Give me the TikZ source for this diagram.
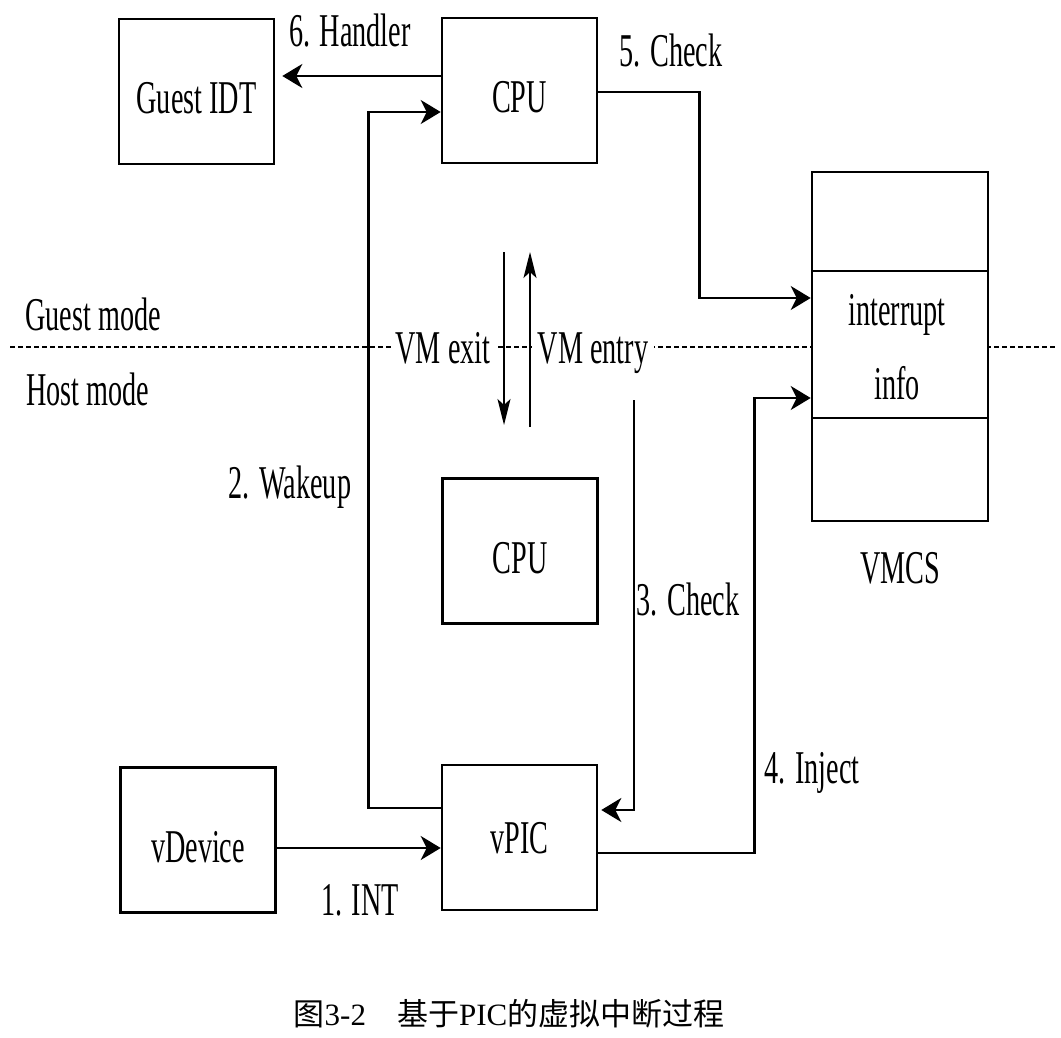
\documentclass[tikz,border=0pt]{standalone}
\usepackage{fontspec}
\setmainfont{Liberation Serif}
\newfontfamily\cf[FakeStretch=0.6]{Liberation Serif}
\newfontfamily\cjk{Noto Sans CJK SC}
\usetikzlibrary{arrows.meta,calc}
\begin{document}
\begin{tikzpicture}[x=1pt,y=-1pt,
  box/.style={draw, line width=2.6pt, minimum width=155pt, minimum height=145pt, fill=white, inner sep=0pt,
    text height=44pt, text depth=0pt, font=\cf\fontsize{47}{50}\selectfont},
  vcell/.style={draw, line width=2.6pt, minimum width=176pt, fill=white, inner sep=0pt},
  lbl/.style={font=\cf\fontsize{47}{50}\selectfont, inner sep=0pt, anchor=base},
  conn/.style={line width=2.6pt, -{Stealth[length=20pt,width=24pt,inset=6pt]}},
  vmarrow/.style={line width=1.8pt, -{Stealth[length=26pt,width=13pt,inset=6pt]}},
  modeline/.style={line width=2pt, dash pattern=on 5pt off 3pt}]
\useasboundingbox (0,0) rectangle (1061,1038);
\fill[white] (0,0) rectangle (1061,1038);
% mode separator
\coordinate (dl) at (10,347);
\coordinate (dr) at (1055,347);
\draw[modeline] (dl) -- (dr);
% boxes
\node[box] (idt)  at (196.5,91.5) {Guest IDT};
\node[box] (cpu1) at (519.5,90.5) {CPU};
\node[box] (cpu2) at (520,551) {CPU};
\node[box] (vdev) at (198,840) {vDevice};
\node[box, text height=31pt] (vpic) at (519.5,837.5) {vPIC};
\node[vcell, minimum height=99pt]  (vtop) at (900,221.5) {};
\node[vcell, minimum height=147pt] (vmid) at (900,344.5) {};
\node[vcell, minimum height=103pt] (vbot) at (900,469.5) {};
\node[lbl] (int)  at (897,325) {interrupt};
\node[lbl] (info) at (897,399) {info};
\node[lbl] (vmcs) at (900,583) {VMCS};
% connectors
\draw[conn, shorten >=7pt] ([yshift=14.5pt]cpu1.west) -- ([yshift=15.5pt]idt.east);
\coordinate (w1) at ([yshift=29.5pt]vpic.west);
\draw[conn] (w1) -- ++(-72,0) |- ([yshift=-21.5pt]cpu1.west);
\draw[conn] ([yshift=-1.5pt]cpu1.east) -| ($(vmid.west)+(-111,-46.5)$) -- ($(vmid.west)+(0,-46.5)$);
\coordinate (c3) at (634,400);
\draw[conn, shorten >=3pt] (c3) |- ([yshift=27.5pt]vpic.east);
\draw[conn] ([yshift=-15.5pt]vpic.east) -| ($(vmid.west)+(-56,53.5)$) -- ($(vmid.west)+(0,53.5)$);
\coordinate (i1) at ([yshift=-8pt]vdev.east);
\draw[conn] (i1) -- (i1 -| vpic.west);
% VM exit / entry
\coordinate (ex1) at (504,252);
\coordinate (ex2) at (504,425);
\coordinate (en1) at (530,427);
\coordinate (en2) at (530,252);
\draw[vmarrow] (ex1) -- (ex2);
\draw[vmarrow] (en1) -- (en2);
% labels
\node[lbl] (l6) at (350,47) {6. Handler};
\node[lbl] (l5) at (671,67) {5. Check};
\node[lbl] (gm) at (93,330) {Guest mode};
\node[lbl] (hm) at (88,405) {Host mode};
\node[lbl, fill=white, inner xsep=5pt] (vmx) at (443,363) {VM exit};
\node[lbl, fill=white, inner xsep=6pt] (vme) at (593,363) {VM entry};
\node[lbl] (l2) at (290,498) {2. Wakeup};
\node[lbl] (l3) at (688,615) {3. Check};
\node[lbl] (l4) at (812,783) {4. Inject};
\node[lbl] (l1) at (360,915) {1. INT};
% caption
\node[anchor=base, inner sep=0pt] (cap) at (509,1025)
  {\cjk\fontsize{31}{31}\selectfont 图{\rmfamily 3-2}\quad 基于{\rmfamily PIC}的虚拟中断过程};
\end{tikzpicture}
\end{document}
